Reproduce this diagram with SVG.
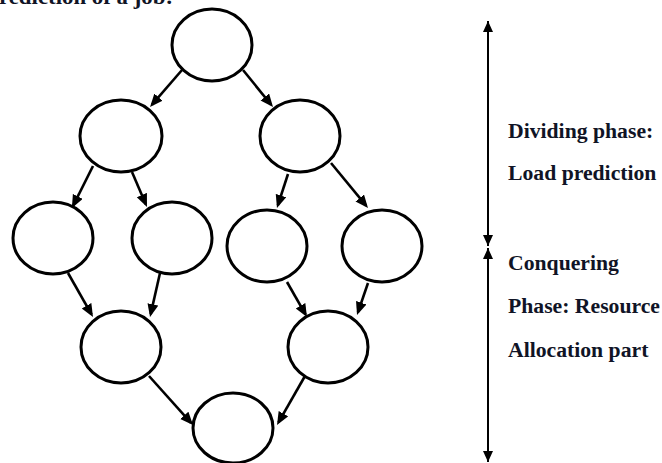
<svg xmlns="http://www.w3.org/2000/svg" width="662" height="463" viewBox="0 0 662 463">
<style>
.node{fill:#fff;stroke:#000;stroke-width:3}
.conn{stroke:#000;stroke-width:2.6;fill:none;marker-end:url(#ah)}
.axis{stroke:#000;stroke-width:2;fill:none}
.lbl{font-family:"Liberation Serif","Times New Roman",serif;font-weight:bold;font-size:21.7px;fill:#101426}
</style>
<defs>
<marker id="ah" markerUnits="userSpaceOnUse" markerWidth="14" markerHeight="12" refX="10" refY="5.5" orient="auto">
<path d="M0,0 L13,5.5 L0,11 z" fill="#000"/>
</marker>
<marker id="vh" markerUnits="userSpaceOnUse" markerWidth="12" markerHeight="11" refX="11" refY="5" orient="auto-start-reverse">
<path d="M0,0 L11,5 L0,10 z" fill="#000"/>
</marker>
</defs>
<text class="lbl" x="-1" y="4" font-size="22" textLength="174" lengthAdjust="spacingAndGlyphs">rediction of a job:</text>
<g id="connectors">
<line class="conn" x1="182" y1="70" x2="152" y2="104.7"/>
<line class="conn" x1="243" y1="70" x2="271.1" y2="104.7"/>
<line class="conn" x1="93" y1="166" x2="73.3" y2="205.3"/>
<line class="conn" x1="132" y1="172" x2="145.8" y2="204.2"/>
<line class="conn" x1="288" y1="174" x2="277.9" y2="205.1"/>
<line class="conn" x1="331" y1="163" x2="366.1" y2="205.7"/>
<line class="conn" x1="68" y1="273" x2="91.5" y2="314.4"/>
<line class="conn" x1="160" y1="273" x2="150.7" y2="314.1"/>
<line class="conn" x1="287" y1="282" x2="305.5" y2="314.4"/>
<line class="conn" x1="368" y1="283" x2="358" y2="312.2"/>
<line class="conn" x1="149" y1="376" x2="191" y2="422.8"/>
<line class="conn" x1="305" y1="376" x2="278.5" y2="422.4"/>
</g>
<g id="n1"><ellipse class="node" cx="212" cy="45" rx="40" ry="36"/></g>
<g id="n2"><ellipse class="node" cx="121" cy="136" rx="41" ry="36"/></g>
<g id="n3"><ellipse class="node" cx="300" cy="136" rx="40" ry="36"/></g>
<g id="n4"><ellipse class="node" cx="53" cy="238" rx="40" ry="36"/></g>
<g id="n5"><ellipse class="node" cx="172" cy="238" rx="40" ry="36"/></g>
<g id="n6"><ellipse class="node" cx="267" cy="246" rx="40" ry="36"/></g>
<g id="n7"><ellipse class="node" cx="382" cy="246" rx="40" ry="36"/></g>
<g id="n8"><ellipse class="node" cx="121" cy="347" rx="40" ry="36"/></g>
<g id="n9"><ellipse class="node" cx="328" cy="347" rx="40" ry="36"/></g>
<g id="n10"><ellipse class="node" cx="233" cy="428" rx="40" ry="35"/></g>
<g id="phases">
<line class="axis" x1="488" y1="21" x2="488" y2="246" marker-start="url(#vh)" marker-end="url(#vh)"/>
<line class="axis" x1="488" y1="248" x2="488" y2="462" marker-start="url(#vh)" marker-end="url(#vh)"/>
<text class="lbl" x="508" y="138">Dividing phase:</text>
<text class="lbl" x="508" y="180">Load prediction</text>
<text class="lbl" x="508" y="270">Conquering</text>
<text class="lbl" x="508" y="313">Phase: Resource</text>
<text class="lbl" x="508" y="357">Allocation part</text>
</g>
</svg>
